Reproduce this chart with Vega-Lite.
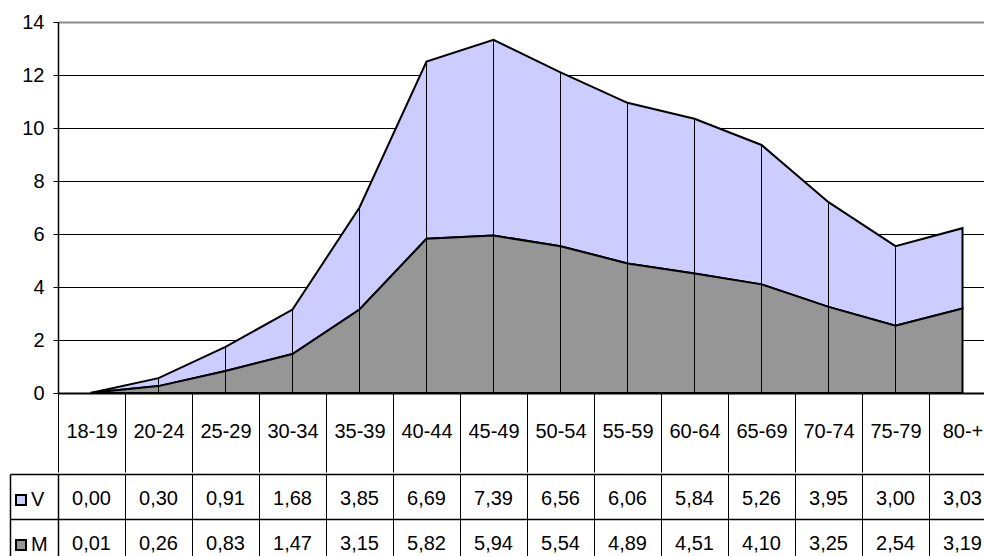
{
  "$schema": "https://vega.github.io/schema/vega-lite/v6.json",
  "padding": {"left": 9, "top": 12, "right": -11, "bottom": -6},
  "background": "white",
  "config": {
    "locale": {"number": {"decimal": ",", "thousands": ".", "grouping": [3], "currency": ["", " €"]}},
    "font": "Liberation Sans",
    "view": {"stroke": null},
    "axis": {"labelFont": "Liberation Sans", "labelFontSize": 20, "labelColor": "black", "title": null}
  },
  "datasets": {
    "d": [
      {"age": "18-19", "series": "V", "value": 0.00},
      {"age": "20-24", "series": "V", "value": 0.30},
      {"age": "25-29", "series": "V", "value": 0.91},
      {"age": "30-34", "series": "V", "value": 1.68},
      {"age": "35-39", "series": "V", "value": 3.85},
      {"age": "40-44", "series": "V", "value": 6.69},
      {"age": "45-49", "series": "V", "value": 7.39},
      {"age": "50-54", "series": "V", "value": 6.56},
      {"age": "55-59", "series": "V", "value": 6.06},
      {"age": "60-64", "series": "V", "value": 5.84},
      {"age": "65-69", "series": "V", "value": 5.26},
      {"age": "70-74", "series": "V", "value": 3.95},
      {"age": "75-79", "series": "V", "value": 3.00},
      {"age": "80-+", "series": "V", "value": 3.03},
      {"age": "18-19", "series": "M", "value": 0.01},
      {"age": "20-24", "series": "M", "value": 0.26},
      {"age": "25-29", "series": "M", "value": 0.83},
      {"age": "30-34", "series": "M", "value": 1.47},
      {"age": "35-39", "series": "M", "value": 3.15},
      {"age": "40-44", "series": "M", "value": 5.82},
      {"age": "45-49", "series": "M", "value": 5.94},
      {"age": "50-54", "series": "M", "value": 5.54},
      {"age": "55-59", "series": "M", "value": 4.89},
      {"age": "60-64", "series": "M", "value": 4.51},
      {"age": "65-69", "series": "M", "value": 4.10},
      {"age": "70-74", "series": "M", "value": 3.25},
      {"age": "75-79", "series": "M", "value": 2.54},
      {"age": "80-+", "series": "M", "value": 3.19}
    ]
  },
  "spacing": 0,
  "resolve": {"scale": {"color": "independent"}, "legend": {"color": "independent"}},
  "vconcat": [
    {
      "width": 938,
      "height": 371,
      "data": {"name": "d"},
      "layer": [
        {
          "mark": {"type": "area", "stroke": "black", "strokeWidth": 2, "strokeJoin": "miter"},
          "encoding": {
            "x": {
              "field": "age", "type": "ordinal", "sort": null, "bandPosition": 0.5,
              "scale": {"type": "band", "paddingInner": 0, "paddingOuter": 0},
              "axis": {
                "orient": "bottom", "labelAngle": 0, "domainColor": "black", "domainWidth": 2,
                "tickBand": "extent", "tickSize": 79, "tickColor": "black", "tickWidth": 1,
                "labelPadding": -41, "labelBaseline": "middle", "grid": false
              }
            },
            "y": {
              "field": "value", "type": "quantitative", "stack": "zero",
              "scale": {"domain": [0, 14], "nice": false},
              "axis": {
                "values": [0, 2, 4, 6, 8, 10, 12, 14], "tickSize": 5, "tickColor": "black",
                "domainColor": "black", "domainWidth": 1.5, "labelPadding": 9,
                "grid": true,
                "gridColor": {"condition": {"test": "datum.value === 14", "value": "#8c8c8c"}, "value": "black"},
                "gridWidth": {"condition": {"test": "datum.value === 14", "value": 2}, "value": 1}
              }
            },
            "color": {
              "field": "series", "type": "nominal",
              "scale": {"domain": ["V", "M"], "range": ["#CCCCFF", "#969696"]},
              "legend": null
            },
            "order": {"field": "series", "sort": "ascending"}
          }
        },
        {
          "mark": {"type": "rule", "color": "black", "strokeWidth": 1},
          "encoding": {
            "x": {"field": "age", "type": "ordinal", "sort": null, "bandPosition": 0.5},
            "y": {"field": "value", "type": "quantitative", "stack": "zero"},
            "detail": {"field": "series"},
            "order": {"field": "series", "sort": "ascending"}
          }
        }
      ]
    },
    {
      "width": 938,
      "height": 90,
      "data": {"name": "d"},
      "resolve": {"scale": {"y": "independent"}, "axis": {"y": "independent"}},
      "layer": [
        {
          "mark": {"type": "text", "fontSize": 20, "font": "Liberation Sans", "color": "black", "dy": 2},
          "encoding": {
            "x": {
              "field": "age", "type": "ordinal", "sort": null,
              "scale": {"type": "band", "paddingInner": 0, "paddingOuter": 0},
              "axis": {
                "orient": "top", "labels": false, "ticks": false, "domain": false,
                "grid": true, "tickBand": "extent", "gridColor": "black", "gridWidth": 1
              }
            },
            "y": {
              "field": "series", "type": "nominal",
              "scale": {"domain": ["V", "M"], "paddingInner": 0, "paddingOuter": 0},
              "axis": {
                "orient": "left", "labels": false, "tickBand": "extent",
                "ticks": true, "tickSize": 48, "tickColor": "black", "tickWidth": 1.5,
                "domain": true, "domainColor": "black", "domainWidth": 1.5,
                "grid": true, "gridColor": "black", "gridWidth": 1.5
              }
            },
            "text": {"field": "value", "type": "quantitative", "format": ".2f"}
          }
        },
        {
          "mark": {"type": "square", "opacity": 0},
          "encoding": {
            "x": {"field": "age", "type": "ordinal", "sort": null},
            "y": {
              "field": "series", "type": "nominal",
              "scale": {"domain": ["V", "M"], "paddingInner": 0, "paddingOuter": 0},
              "axis": {
                "orient": "left", "offset": 48, "labels": false, "ticks": false, "grid": false,
                "domain": true, "domainColor": "black", "domainWidth": 1.5
              }
            },
            "color": {
              "field": "series", "type": "nominal",
              "scale": {"domain": ["V", "M"], "range": ["#CCCCFF", "#969696"]},
              "legend": {
                "orient": "none", "legendX": -47, "legendY": 16, "title": null,
                "direction": "vertical", "symbolType": "square", "symbolSize": 100,
                "labelFontSize": 20, "labelFont": "Liberation Sans", "labelColor": "black",
                "rowPadding": 25, "padding": 0, "labelOffset": 0,
                "symbolStrokeColor": "black", "symbolStrokeWidth": 2, "symbolOpacity": 1,
                "encode": {"symbols": {"update": {"stroke": {"value": "black"}, "strokeWidth": {"value": 2}, "opacity": {"value": 1}, "size": {"value": 100}}}}
              }
            }
          }
        }
      ]
    }
  ]
}
